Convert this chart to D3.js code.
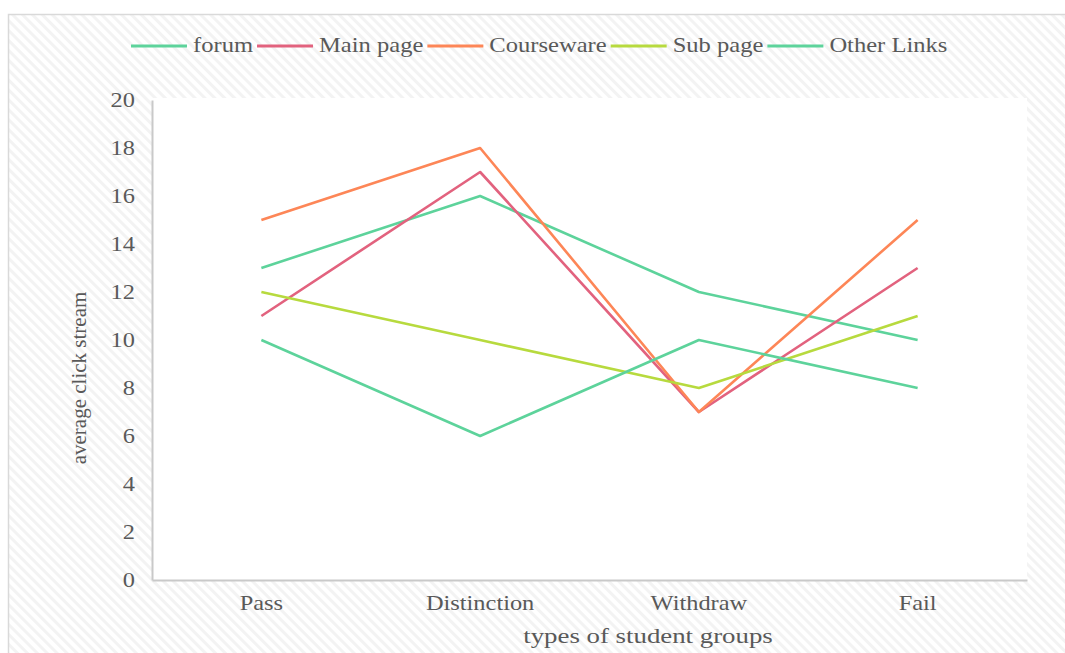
<!DOCTYPE html>
<html>
<head>
<meta charset="utf-8">
<script src="https://cdn.jsdelivr.net/npm/d3@7"></script>
<style>
  html, body { margin: 0; padding: 0; background: #fff; }
  svg { display: block; }
  text { font-family: "Liberation Serif", "Times New Roman", serif; fill: #595959; }
</style>
</head>
<body>
<svg id="chart" width="1065" height="653"></svg>
<script>
// Student groups on the x axis
const categories = ["Pass", "Distinction", "Withdraw", "Fail"];

// Average click stream per resource type
const seriesNames = ["forum", "Main page", "Courseware", "Sub page", "Other Links"];
const forum      = [13, 16, 12, 10];
const mainPage   = [11, 17, 7, 13];
const courseware = [15, 18, 7, 15];
const subPage    = [12, 10, 8, 11];
const otherLinks = [10, 6, 10, 8];

const yTicks = [0, 2, 4, 6, 8, 10, 12, 14, 16, 18, 20];

const colors = ["#5dd39b", "#e2627e", "#fd8657", "#b7da3e", "#5dd39b"];
const seriesValues = [forum, mainPage, courseware, subPage, otherLinks];

const W = 1065, H = 653;
const margin = { left: 152, right: 38, top: 100, bottom: 73 };
const plotW = W - margin.left - margin.right;
const plotH = H - margin.top - margin.bottom;
const stretch = 1.22; // wide serif lettering

const svg = d3.select("#chart");

// Hatched chart background
const defs = svg.append("defs");
const pat = defs.append("pattern")
  .attr("id", "hatch")
  .attr("patternUnits", "userSpaceOnUse")
  .attr("width", 7).attr("height", 7)
  .attr("patternTransform", "rotate(45)");
pat.append("rect").attr("width", 7).attr("height", 7).attr("fill", "#ffffff");
pat.append("rect").attr("width", 7).attr("height", 3).attr("fill", "#f3f3f3");

svg.append("rect")
  .attr("x", 8.5).attr("y", 14.5)
  .attr("width", W).attr("height", H)
  .attr("fill", "url(#hatch)")
  .attr("stroke", "#d9d9d9")
  .attr("stroke-width", 1.5);

const x = d3.scaleBand().domain(categories).range([margin.left, margin.left + plotW]);
const y = d3.scaleLinear().domain([0, 20]).range([margin.top + plotH, margin.top]);

// Plot area
svg.append("rect")
  .attr("x", margin.left).attr("y", margin.top - 2)
  .attr("width", plotW).attr("height", plotH + 2)
  .attr("fill", "#ffffff");

// Axes
const yAxis = svg.append("g")
  .attr("transform", `translate(${margin.left},0)`)
  .call(d3.axisLeft(y).tickValues(yTicks).tickSize(0).tickPadding(14));
yAxis.select(".domain").attr("stroke", "#c9c9c9").attr("stroke-width", 2);
yAxis.selectAll("text")
  .attr("transform", `scale(${stretch},1)`)
  .style("font-family", "'Liberation Serif', serif")
  .style("font-size", "20px")
  .attr("fill", "#595959");

const xAxis = svg.append("g")
  .attr("transform", `translate(0,${margin.top + plotH})`)
  .call(d3.axisBottom(x).tickSize(0).tickPadding(16));
xAxis.select(".domain").attr("stroke", "#c9c9c9").attr("stroke-width", 2);
xAxis.selectAll("text")
  .attr("transform", `scale(${stretch},1)`)
  .style("font-family", "'Liberation Serif', serif")
  .style("font-size", "20px")
  .attr("fill", "#595959");

// Axis titles
svg.append("text")
  .attr("transform", `translate(86,378) rotate(-90)`)
  .attr("text-anchor", "middle")
  .style("font-size", "21px")
  .text("average click stream");

svg.append("text")
  .attr("transform", `translate(648,643) scale(${stretch},1)`)
  .attr("text-anchor", "middle")
  .style("font-size", "22px")
  .text("types of student groups");

// Series lines
const line = d3.line()
  .x((d, i) => x(categories[i]) + x.bandwidth() / 2)
  .y(d => y(d));

svg.append("g").selectAll("path")
  .data(seriesValues)
  .join("path")
  .attr("d", d => line(d))
  .attr("fill", "none")
  .attr("stroke", (d, i) => colors[i])
  .attr("stroke-width", 2.6)
  .attr("stroke-linejoin", "round");

// Legend
const legendStretch = 1.17;
const legend = svg.append("g").attr("transform", "translate(131,46)");
let lx = 0;
seriesNames.forEach((name, i) => {
  const g = legend.append("g").attr("transform", `translate(${lx},0)`);
  g.append("line")
    .attr("x1", 0).attr("x2", 56).attr("y1", 0).attr("y2", 0)
    .attr("stroke", colors[i]).attr("stroke-width", 2.8);
  const t = g.append("text")
    .attr("transform", `translate(62,6) scale(${legendStretch},1)`)
    .style("font-size", "21px")
    .text(name);
  lx += 62 + t.node().getComputedTextLength() * legendStretch + 4;
});
</script>
</body>
</html>
